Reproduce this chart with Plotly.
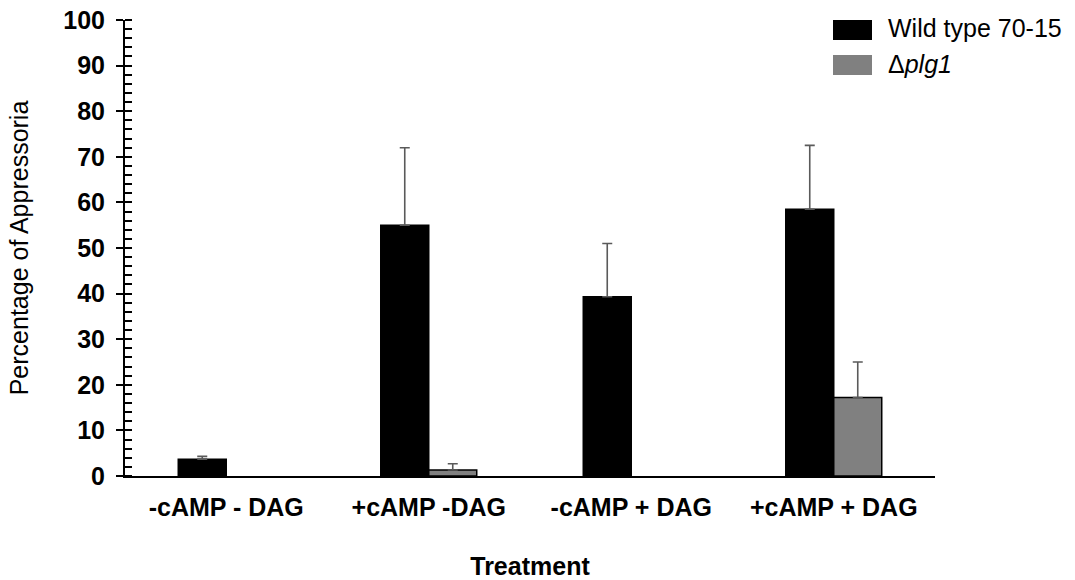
import plotly.graph_objects as go

categories = ["-cAMP - DAG", "+cAMP -DAG", "-cAMP + DAG", "+cAMP + DAG"]
series_names = ["Wild type 70-15", "Δ<i>plg1</i>"]
wild_type = [3.7, 55.0, 39.3, 58.5]
wild_type_err = [0.6, 17.0, 11.7, 14.0]
plg1 = [None, 1.3, None, 17.2]
plg1_err = [None, 1.4, None, 7.8]
colors = ["#000000", "#808080"]

FONT = "Arial, Liberation Sans, sans-serif"

fig = go.Figure()
for name, vals, errs, col in [(series_names[0], wild_type, wild_type_err, colors[0]),
                              (series_names[1], plg1, plg1_err, colors[1])]:
    fig.add_trace(go.Bar(
        x=categories, y=vals, name=name, showlegend=False,
        marker=dict(color=col, line=dict(color="#000000", width=1.5)),
        error_y=dict(type="data", array=errs, symmetric=False,
                     arrayminus=[0] * len(errs),
                     color="#5a5a5a", thickness=1.6, width=5),
    ))

# plot area in pixels (for placing the hand-drawn legend)
L, R, T, B = 125, 140, 20, 104
Wd, Ht = 1075, 580
pw, ph = Wd - L - R, Ht - T - B

fig.update_layout(
    width=Wd, height=Ht,
    margin=dict(l=L, r=R, t=T, b=B),
    paper_bgcolor="white", plot_bgcolor="white",
    barmode="group", bargap=0.526, bargroupgap=0,
    font=dict(family=FONT, color="#000000"),
    xaxis=dict(
        automargin=False,
        showline=True, linecolor="#000000", linewidth=2, ticks="",
        tickfont=dict(size=25, family=FONT, weight="bold"),
        ticklabelstandoff=8,
        title=dict(text="<b>Treatment</b>", font=dict(size=25), standoff=42),
        layer="above traces",
    ),
    yaxis=dict(
        automargin=False,
        range=[0, 100], dtick=10, showgrid=False, zeroline=False,
        showline=True, linecolor="#000000", linewidth=2,
        ticks="outside", ticklen=7, tickwidth=1.5, tickcolor="#000000",
        tickfont=dict(size=25, family=FONT, weight="bold"),
        ticklabelstandoff=6,
        minor=dict(ticks="inside", dtick=2, ticklen=7, tickwidth=1.5, tickcolor="#000000"),
        title=dict(text="Percentage of Appressoria", font=dict(size=25), standoff=28),
        layer="above traces",
    ),
    yaxis2=dict(
        range=[0, 100], overlaying="y", side="left", dtick=10,
        ticks="inside", ticklen=7, tickwidth=1.5, tickcolor="#000000",
        showticklabels=False, showgrid=False, zeroline=False, showline=False,
    ),
)

def px_x(x):
    return (x - L) / pw

def px_y(y):
    return (Ht - B - y) / ph

# legend drawn manually (swatch + label)
swatch_top = [20, 55]
text_mid = [28, 64]
for i, (name, col) in enumerate(zip(series_names, colors)):
    fig.add_shape(type="rect", xref="paper", yref="paper",
                  x0=px_x(833), x1=px_x(872),
                  y0=px_y(swatch_top[i] + 20), y1=px_y(swatch_top[i]),
                  fillcolor=col, line=dict(width=0))
    fig.add_annotation(xref="paper", yref="paper", x=px_x(886), y=px_y(text_mid[i]),
                       text=name, showarrow=False, xanchor="left", yanchor="middle",
                       font=dict(size=25, family=FONT, color="#000000"))

fig.write_html("out.html")
